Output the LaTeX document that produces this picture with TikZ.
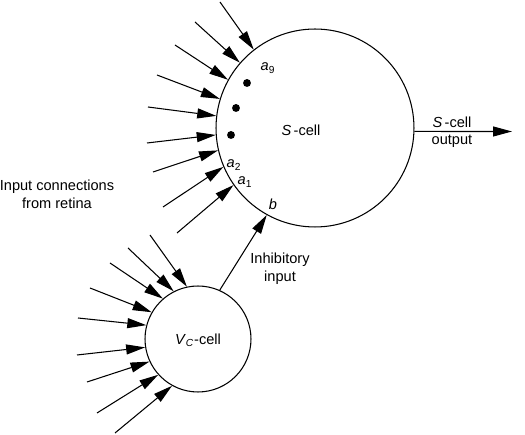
\documentclass[tikz,border=0pt]{standalone}
\usepackage{fontspec}
\setmainfont{Liberation Sans}
\usetikzlibrary{arrows.meta}

\begin{document}
\begin{tikzpicture}[x=0.02cm, y=-0.02cm, font=\fontsize{8.3}{10.2}\selectfont]
    \tikzstyle{cell} = [circle, draw, line width=0.6pt, inner sep=0pt]
    \tikzstyle{syn} = [draw, line width=0.6pt, -{Triangle[length=3.8mm, width=2mm]}]
    \tikzstyle{dot} = [circle, fill, inner sep=0pt, minimum size=4.5pt]

    \useasboundingbox (0,0) rectangle (525,435);

    \node [cell, minimum size=3.96cm] (scell) at (315,128) {};
    \node [cell, minimum size=2.12cm] (vcell) at (198,339) {};

    % inputs to the S-cell
    \foreach \i/\tx/\ty/\ang in {1/220/2/128.3, 2/195/22/139.1, 3/175/45/151.1,
        4/157/75/163.2, 5/148/107/173.6, 6/147/143/184.6, 7/153/172/193.2,
        8/163/207/203.5, 9/177/233/215.6} {
        \coordinate (s\i) at (\tx,\ty);
        \draw [syn] (s\i) -- (scell.\ang);
    }

    % inputs to the Vc-cell
    \foreach \i/\tx/\ty/\ang in {1/150/235/102, 2/128/248/117.5, 3/110/263/131.3,
        4/90/288/150.5, 5/78/318/165.7, 6/77/355/189, 7/87/382/205.6,
        8/97/413/222, 9/115/433/241.5} {
        \coordinate (v\i) at (\tx,\ty);
        \draw [syn] (v\i) -- (vcell.\ang);
    }

    \node [dot] (dot1) at (247,83) {};
    \node [dot] (dot2) at (236,108) {};
    \node [dot] (dot3) at (231,135) {};

    \node (a9) at (268,68) {\textit{a}\textsubscript{9}};
    \node (a2) at (234,165) {\textit{a}\textsubscript{2}};
    \node (a1) at (245,182) {\textit{a}\textsubscript{1}};
    \node (b) at (273,204) {\textit{b}};
    \node (slabel) at (301,130) {\textit{S}\,-cell};
    \node (vlabel) at (198,340) {\textit{V}\textsubscript{\textit{C}}-cell};

    \draw [syn] (vcell.66.7) -- (scell.241.1);
    \node [align=center] (inhib) at (280,269) {Inhibitory\\input};

    \coordinate (outend) at (512,131.5);
    \draw [syn] (scell.-2) -- (outend);
    \node (outtop) at (452,122) {\textit{S}\,-cell};
    \node (outbot) at (452,141) {output};

    \node [align=center] (retina) at (57,194) {Input connections\\from retina};
\end{tikzpicture}
\end{document}
